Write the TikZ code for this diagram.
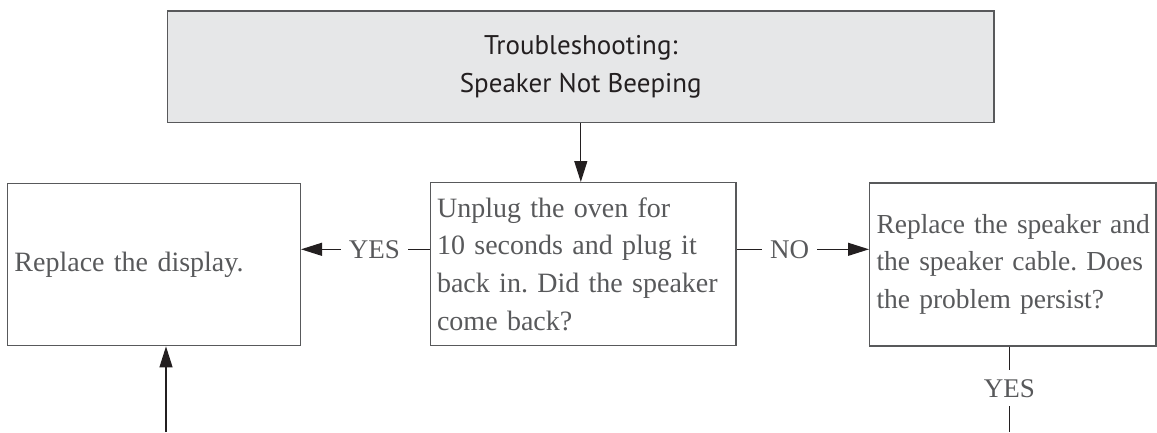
\documentclass[tikz,border=0pt]{standalone}
\usepackage{fontspec}
\setmainfont{Liberation Serif}
\newfontfamily\headfont{PT Sans}
\usetikzlibrary{arrows.meta}
\definecolor{boxgray}{HTML}{E6E7E8}
\definecolor{txtgray}{HTML}{58595B}
\definecolor{ink}{HTML}{231F20}
\frenchspacing
\begin{document}
\begin{tikzpicture}[x=1pt,y=-1pt,
  box/.style={draw=txtgray, line width=1.4pt, inner xsep=6.8pt, inner ysep=0pt,
    align=left, text=txtgray, font=\fontsize{28}{37.8}\selectfont},
  conn/.style={draw=ink, line width=1.2pt},
  arr/.style={conn, -{Triangle[length=21pt,width=13pt]}},
  lbl/.style={fill=white, text=txtgray, font=\fontsize{27}{30}\selectfont,
    inner xsep=8pt, inner ysep=9pt}]
\useasboundingbox (0,0) rectangle (1157,432);
\node[draw=txtgray, fill=boxgray, line width=1.4pt, minimum width=826.4pt,
  minimum height=111.7pt, align=center, text=ink,
  font=\headfont\fontsize{27}{38.4}\selectfont] (top) at (580.8,66.9)
  {Troubleshooting:\\Speaker Not Beeping};
\node[box, text width=279.1pt, minimum height=162.4pt] (disp) at (154,264.5)
  {\mbox{Replace the display.}};
\node[box, text width=292.3pt, minimum height=163pt] (mid) at (583.2,264.2)
  {\mbox{Unplug the oven for}\\\mbox{10 seconds and plug it}\\\mbox{back in. Did the speaker}\\\mbox{come back?}};
\node[box, text width=272.6pt, minimum height=163pt, font=\fontsize{27.5}{37.2}\selectfont] (rep) at (1012.8,264.3)
  {\mbox{Replace the speaker and}\\\mbox{the speaker cable. Does}\\\mbox{the problem persist?}};
\coordinate (lvl) at (0,249.3);
\coordinate (lbot) at (166,432);
\coordinate (rbot) at (1009.4,432);
\draw[arr] (top.south) -- (top.south |- mid.north);
\draw[arr] (mid.west |- lvl) -- node[lbl, pos=0.43] {YES} (disp.east |- lvl);
\draw[arr] (mid.east |- lvl) -- node[lbl, pos=0.40] {NO} (rep.west |- lvl);
\draw[conn] (rbot |- rep.south) -- node[lbl, pos=0.49] {YES} (rbot);
\draw[arr] (lbot) -- (lbot |- disp.south);
\end{tikzpicture}
\end{document}
